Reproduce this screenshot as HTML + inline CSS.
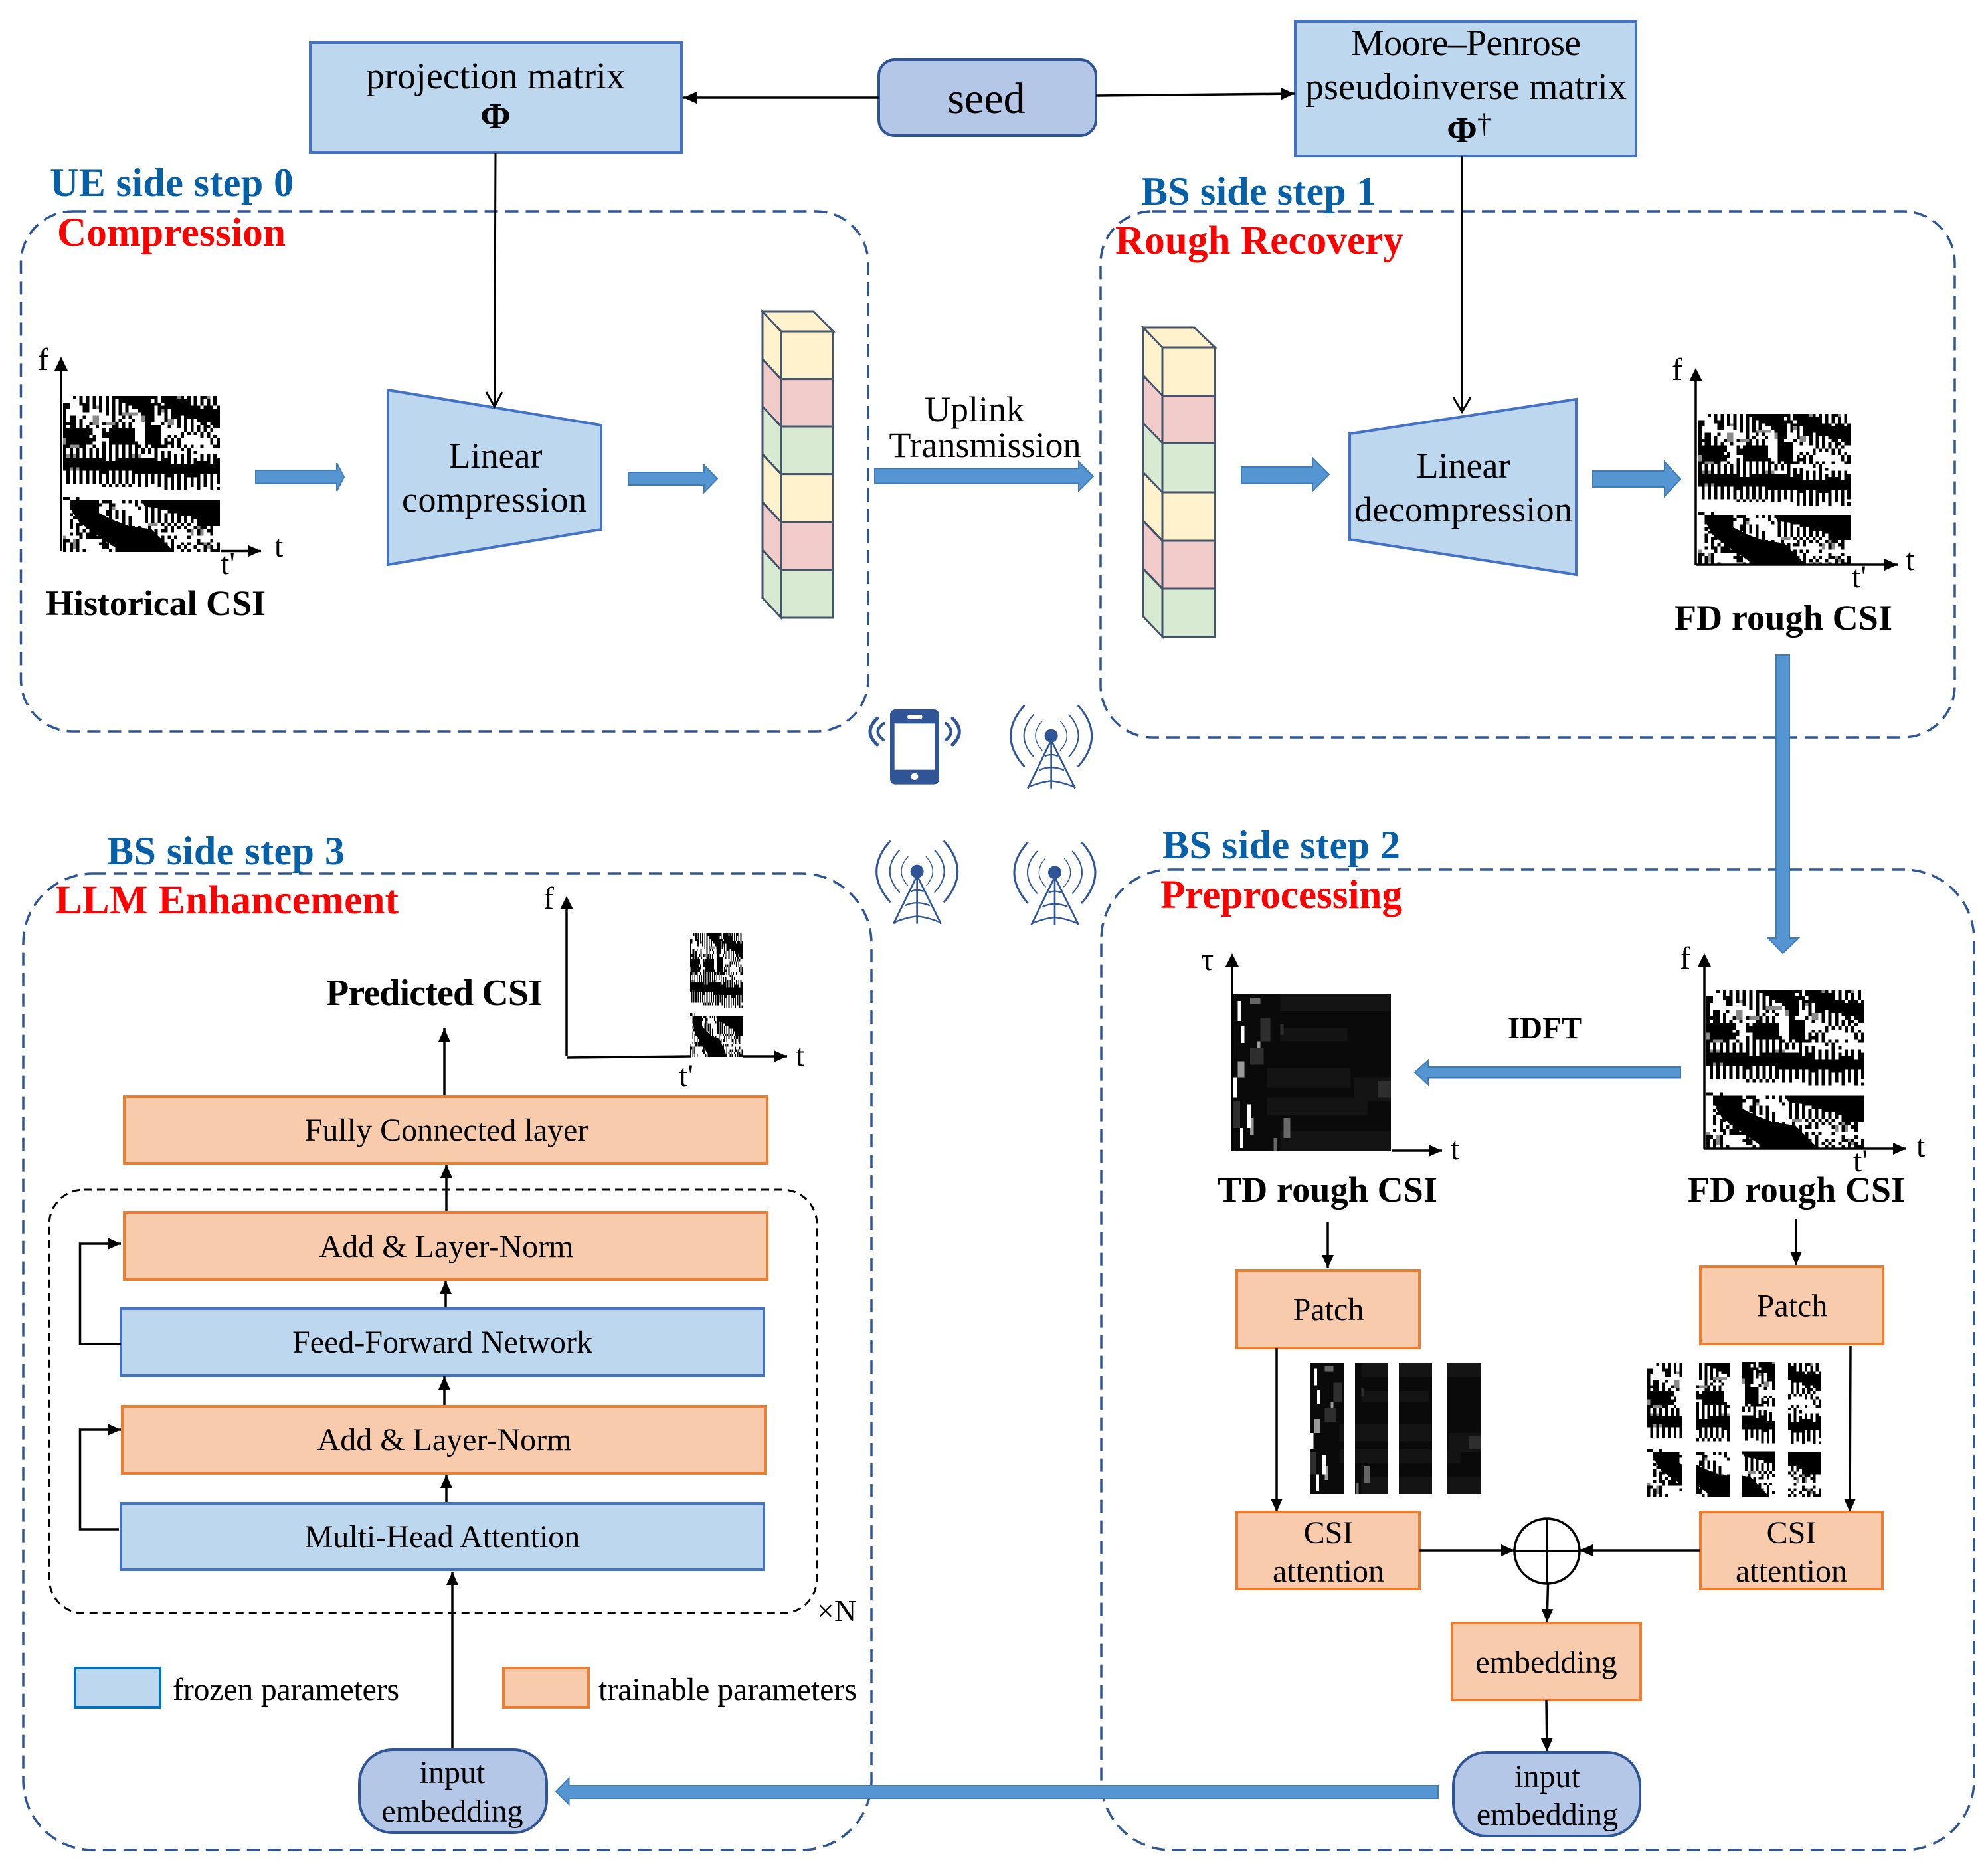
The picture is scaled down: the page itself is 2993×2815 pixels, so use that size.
<!DOCTYPE html>
<html><head><meta charset="utf-8"><title>CSI diagram</title>
<style>
html,body{margin:0;padding:0;background:#fff;}
svg{display:block;}
text{font-family:"Liberation Serif",serif;fill:#000;}
.m{text-anchor:middle;}
.s48{font-size:48px;}.s54{font-size:54px;}.s56{font-size:56px;}
.b{font-weight:bold;}
.blue{font-weight:bold;font-size:60px;fill:#0560A8;}
.red{font-weight:bold;font-size:61px;fill:#FF0000;}
.or{fill:#F8CBAD;stroke:#ED7D31;stroke-width:4;}
.bl{fill:#BDD7EE;stroke:#4472C4;stroke-width:4;}
.rd{fill:#B4C7E7;stroke:#2F5597;stroke-width:4;}
.dash{fill:none;stroke:#2F5597;stroke-width:3.5;stroke-dasharray:20 11;}
.ln{stroke:#000;stroke-width:3.5;fill:none;}
.ar{stroke:#000;stroke-width:3.5;fill:none;marker-end:url(#a);}
.th{fill:#5596D2;stroke:#3E7CB9;stroke-width:2;}
.cb{stroke:#44546A;stroke-width:3;}
</style></head><body>
<svg xmlns="http://www.w3.org/2000/svg" width="2993" height="2815" viewBox="0 0 2993 2815">
<defs>
<marker id="a" markerUnits="userSpaceOnUse" markerWidth="22" markerHeight="20" refX="20" refY="9" orient="auto"><path d="M0 0L20 9L0 18z" fill="#000"/></marker>
<g id="fdg" shape-rendering="crispEdges">
<rect width="48" height="48" fill="#fff"/>
<g fill="#8a8a8a">
<rect x="9" y="6" width="2" height="2"/><rect x="18" y="5" width="5" height="1"/><rect x="9" y="8" width="2" height="1"/><rect x="13" y="8" width="3" height="1"/>
<rect x="0" y="13" width="2" height="2"/><rect x="2" y="15" width="3" height="1"/><rect x="9" y="3" width="2" height="1"/><rect x="24" y="6" width="1" height="2"/>
<rect x="32" y="7" width="2" height="2"/><rect x="44" y="0" width="1" height="1"/><rect x="35" y="0" width="1" height="2"/>
<rect x="41" y="40" width="2" height="3"/><rect x="39" y="41" width="1" height="2"/><rect x="43" y="45" width="2" height="2"/>
<rect x="14" y="33" width="2" height="2"/><rect x="26" y="39" width="3" height="1"/><rect x="3" y="44" width="1" height="3"/><rect x="0" y="43" width="1" height="1"/>
<rect x="2" y="22" width="3" height="1"/><rect x="20" y="18" width="4" height="1"/><rect x="1" y="18" width="1" height="1"/><rect x="3" y="18" width="1" height="1"/>
<rect x="30" y="4" width="1" height="1"/>
</g>
<g fill="none" stroke="#000" stroke-width="1">
<path d="M0 .5H48" stroke-dasharray="0 3 1 1 1 1 1 1 1 1 1 1 1 1 14 1 5 1 1 1 1 1 1 1 2 2 1 1"/>
<path d="M0 1.5H48" stroke-dasharray="0 5 1 1 1 1 1 1 1 1 1 1 1 1 10 1 1 1 9 1 1 1 1 1 1 1 1 1"/>
<path d="M0 2.5H48" stroke-dasharray="2 3 3 1 1 1 1 1 1 1 1 1 1 1 11 1 8 1 1 1 1 1 1 1 1 1"/>
<path d="M0 3.5H48" stroke-dasharray="2 4 2 1 1 1 1 1 1 1 1 1 1 1 1 1 7 1 13 1 3 1 1 0"/>
<path d="M0 4.5H48" stroke-dasharray="1 5 2 3 1 1 1 1 1 1 1 1 1 3 5 1 1 1 1 1 15 0"/>
<path d="M0 5.5H48" stroke-dasharray="1 12 1 1 1 1 1 6 4 1 1 1 1 1 15 0"/>
<path d="M0 6.5H48" stroke-dasharray="1 1 2 2 1 8 1 2 1 1 1 4 3 3 1 1 3 1 11 0"/>
<path d="M0 7.5H48" stroke-dasharray="1 1 2 1 1 9 1 1 1 3 1 3 3 3 1 3 1 1 1 1 1 1 7 0"/>
<path d="M0 8.5H48" stroke-dasharray="4 1 1 2 1 3 1 3 1 1 1 1 1 4 2 3 1 4 1 1 1 1 1 2 2 1 3 0"/>
<path d="M0 9.5H48" stroke-dasharray="1 1 2 1 1 1 1 2 1 4 2 1 1 1 1 4 5 2 1 2 1 1 1 1 1 1 1 1 2 1 2 0"/>
<path d="M0 10.5H48" stroke-dasharray="2 1 2 1 1 1 1 3 1 1 6 5 5 7 1 1 1 1 1 1 1 1 1 2"/>
<path d="M0 11.5H48" stroke-dasharray="3 1 1 1 1 1 1 3 10 3 5 6 1 1 1 1 1 1 1 1 1 3"/>
<path d="M0 12.5H48" stroke-dasharray="2 1 2 1 2 1 1 2 10 3 5 2 1 1 1 1 1 5 1 1 1 1 1 1"/>
<path d="M0 13.5H48" stroke-dasharray="0 2 3 1 1 1 2 4 3 1 1 2 1 3 5 1 1 1 1 1 1 9 1 1 1 0"/>
<path d="M0 14.5H48" stroke-dasharray="0 1 1 1 2 1 3 3 1 1 1 1 1 1 1 1 1 1 1 2 5 1 3 1 1 9 1 1 1 0"/>
<path d="M0 15.5H48" stroke-dasharray="2 3 2 2 1 2 1 1 1 1 1 1 1 1 1 1 2 1 1 1 5 1 1 1 1 1 1 1 1 2 1 3"/>
<path d="M0 16.5H48" stroke-dasharray="1 1 1 1 1 1 1 1 1 1 1 1 1 1 1 1 1 1 1 1 1 1 1 1 1 1 1 1 1 7 1 1 1 9"/>
<path d="M0 17.5H48" stroke-dasharray="1 1 1 1 1 1 1 1 1 1 1 1 1 1 1 1 1 1 1 1 1 1 1 1 1 1 1 1 1 1 1 1 1 5 1 1 1 7"/>
<path d="M0 18.5H48" stroke-dasharray="1 1 1 1 1 1 1 1 1 1 1 1 1 1 1 1 1 1 1 1 1 1 1 5 1 1 1 1 1 1 1 1 1 1 1 3 1 1 1 1 1 1"/>
<path d="M0 19.5H48" stroke-dasharray="13 1 1 1 13 1 3 1 1 1 1 1 1 1 1 1 1 1 1 1 2 0"/>
<path d="M0 20.5H48" stroke-dasharray="33 1 1 1 1 1 1 1 5 1 2 0"/>
<path d="M0 21.5H48"/>
<path d="M0 22.5H48" stroke-dasharray="2 1 1 1 43 0"/>
<path d="M0 23.5H48" stroke-dasharray="0 1 1 1 1 1 1 1 1 1 1 1 3 1 1 1 1 1 1 1 27 0"/>
<path d="M0 24.5H48" stroke-dasharray="0 1 1 1 1 1 1 1 1 1 1 1 1 1 1 1 1 1 1 1 1 1 1 1 1 1 1 1 1 1 1 1 3 1 1 1 5 1 1 1 1 1 1 0"/>
<path d="M1 25.5H48" stroke-dasharray="1 1"/>
<path d="M1 26.5H48" stroke-dasharray="1 1"/>
<path d="M0 27.5H48" stroke-dasharray="0 12 1 1 1 1 1 1 1 1 1 2 1 1 1 3 1 1 1 1 1 1 1 1 1 1 1 1 1 1 1 1 1 0"/>
<path d="M0 28.5H48" stroke-dasharray="0 31 1 1 1 1 1 1 1 3 1 3 1 1 1 0"/>
<path d="M0 31.5H48" stroke-dasharray="2 2 1 43"/>
<path d="M0 32.5H48" stroke-dasharray="0 2 7 3 3 3 1 1 1 1 1 1 9 1 2 1 1 1 5 1 1 1 1 0"/>
<path d="M0 33.5H48" stroke-dasharray="0 2 10 2 2 6 1 2 8 3 2 1 5 1 1 1 1 0"/>
<path d="M0 34.5H48" stroke-dasharray="0 2 9 3 1 8 1 1 1 1 1 1 11 1 7 0"/>
<path d="M0 35.5H48" stroke-dasharray="0 4 7 2 2 1 1 1 1 6 1 1 1 1 1 2 7 1 8 0"/>
<path d="M0 36.5H48" stroke-dasharray="0 2 1 1 7 2 2 1 1 1 1 6 1 1 1 1 1 1 1 1 1 1 13 0"/>
<path d="M0 37.5H48" stroke-dasharray="0 3 8 1 1 1 1 1 1 1 1 1 1 4 1 1 1 1 1 1 1 1 1 1 1 1 1 1 5 1 3 0"/>
<path d="M0 38.5H48" stroke-dasharray="0 2 1 2 6 1 1 1 1 3 1 1 1 4 1 1 1 1 1 1 1 1 1 1 1 1 1 1 1 1 1 2 1 1 1 1"/>
<path d="M0 39.5H48" stroke-dasharray="0 2 1 1 2 1 5 1 1 1 1 1 2 1 1 9 1 1 1 1 1 1 1 1 1 2 1 1 2 3"/>
<path d="M0 40.5H48" stroke-dasharray="0 2 1 1 1 2 9 1 5 1 1 2 1 4 1 1 1 1 1 1 1 2 1 1 2 1 1 2"/>
<path d="M0 41.5H48" stroke-dasharray="0 4 1 1 1 1 2 1 9 1 1 2 1 3 1 1 2 1 1 4 1 2 1 2 2 2"/>
<path d="M0 42.5H48" stroke-dasharray="0 2 1 1 2 1 3 1 9 1 1 2 1 3 1 12 1 3 1 2"/>
<path d="M0 43.5H48" stroke-dasharray="0 5 1 1 7 1 5 1 1 2 1 1 1 1 1 1 1 1 1 1 1 3 1 9"/>
<path d="M0 44.5H48" stroke-dasharray="2 2 1 7 1 3 1 1 7 1 1 1 1 1 1 2 1 7 1 3 1 2"/>
<path d="M0 45.5H48" stroke-dasharray="1 1 1 1 1 6 3 1 1 2 8 1 1 1 1 1 1 1 1 2 1 1 1 2 2 1 1 2 1 0"/>
<path d="M0 46.5H48" stroke-dasharray="1 1 1 1 1 7 2 2 2 1 9 1 1 3 1 1 1 1 1 2 1 2 1 1 1 1 1 0"/>
<path d="M0 47.5H48" stroke-dasharray="1 1 1 1 1 1 1 7 1 1 3 1 8 1 1 3 1 2 1 1 1 2 1 1 1 1 3 0"/>
</g>
<g fill="#000">
<polygon points="2,32 11,32 11,36 15,38 20,40 27,41 30,44 33,47 33,48 18,48 12,44 8,41 5,39 3,36"/>
<polygon points="24,32 47,32 47,37 41,37 33,35 25,34"/>
<polygon points="41,37 48,37 48,40 42,40"/>
<polygon points="1,10 8,10 8,15 1,15"/>
<polygon points="19,10 22,10 22,15 14,15 14,11"/>
</g>
</g>
<g id="tdg" shape-rendering="crispEdges">
<rect width="47" height="47" fill="#0a0a0a"/>
<g fill="#141414">
<rect x="14" y="0" width="33" height="5"/><rect x="14" y="10" width="20" height="4"/><rect x="10" y="22" width="25" height="6"/>
<rect x="10" y="31" width="30" height="5"/><rect x="14" y="41" width="33" height="6"/><rect x="36" y="25" width="11" height="7"/>
</g>
<g fill="#2e2e2e">
<rect x="8" y="7" width="3" height="7"/><rect x="5" y="16" width="4" height="5"/><rect x="43" y="26" width="4" height="5"/><rect x="14" y="9" width="1" height="3"/><rect x="0" y="32" width="2" height="8"/>
</g>
<g fill="#666">
<rect x="5" y="1" width="3" height="2"/><rect x="15" y="37" width="2" height="6"/><rect x="12" y="43" width="1" height="4"/>
</g>
<g fill="#999"><rect x="1.3" y="20" width="2" height="5"/><rect x="5" y="37" width="1" height="5"/><rect x="7" y="14" width="1" height="2"/></g>
<g fill="#fff"><rect x="1.3" y="2" width="1" height="6"/><rect x="2.3" y="9.5" width="1" height="5"/><rect x="0" y="25" width="1" height="6"/><rect x="4" y="33" width="1.3" height="7"/><rect x="2" y="40" width="1" height="6"/></g>
</g>
<symbol id="fd" viewBox="0 0 48 48" preserveAspectRatio="none"><use href="#fdg"/></symbol>
<symbol id="td" viewBox="0 0 47 47" preserveAspectRatio="none"><use href="#tdg"/></symbol>
<g id="tower" fill="none" stroke="#2F5597">
<circle r="30" fill="#2F5597" stroke="none"/>
<g stroke-linecap="round"><path d="M-41-66Q-101 0-41 65" stroke-width="4"/><path d="M-80-95Q-166 0-80 94" stroke-width="6"/><path d="M-123-135Q-243 0-123 137" stroke-width="9"/>
<path d="M41-66Q101 0 41 65" stroke-width="4"/><path d="M80-95Q166 0 80 94" stroke-width="6"/><path d="M123-135Q243 0 123 137" stroke-width="9"/></g>
<path d="M-4 28L-106 237M4 28L108 237M0 28V237" stroke-width="8"/>
<path d="M-28 92Q0 78 30 92M-55 155Q0 130 58 155M-106 232Q-50 208 0 203Q50 208 108 232" stroke-width="7"/>
</g>
</defs>
<rect width="2993" height="2815" fill="#fff"/>

<!-- dashed panels -->
<rect class="dash" x="31.5" y="318" width="1275.5" height="783" rx="78"/>
<rect class="dash" x="1657" y="318" width="1286" height="792" rx="78"/>
<rect class="dash" x="35" y="1315" width="1277" height="1470" rx="105"/>
<rect class="dash" x="1658" y="1309" width="1314" height="1476" rx="105"/>

<!-- top boxes -->
<rect class="bl" x="467" y="64" width="559" height="166"/>
<text class="s56 m" x="746" y="133" textLength="390">projection matrix</text>
<text class="m b" x="746" y="193" font-size="55">Φ</text>
<rect class="rd" x="1323" y="90" width="327" height="114" rx="24" stroke-width="3"/>
<text class="m" x="1485" y="170" font-size="66">seed</text>
<rect class="bl" x="1950" y="32" width="513" height="203"/>
<text class="s56 m" x="2207" y="83" textLength="346">Moore–Penrose</text>
<text class="s56 m" x="2207" y="149" textLength="484">pseudoinverse matrix</text>
<text class="m b" x="2201" y="214" font-size="55">Φ</text>
<text x="2224" y="200" font-size="42">†</text>
<line class="ar" x1="1323" y1="147" x2="1029" y2="147"/>
<line class="ar" x1="1650" y1="144" x2="1949" y2="141"/>

<!-- labels -->
<text class="blue" x="75" y="295" textLength="367">UE side step 0</text>
<text class="red" x="86" y="370" textLength="344">Compression</text>
<text class="blue" x="1718" y="308" textLength="354">BS side step 1</text>
<text class="red" x="1679" y="382" textLength="434">Rough Recovery</text>
<text class="blue" x="161" y="1301" textLength="358">BS side step 3</text>
<text class="red" x="83" y="1375" textLength="517">LLM Enhancement</text>
<text class="blue" x="1750" y="1292" textLength="358">BS side step 2</text>
<text class="red" x="1747" y="1367" textLength="364">Preprocessing</text>

<!-- step 0 -->
<use href="#fd" x="95" y="596" width="236" height="235"/>
<line class="ln" x1="92" y1="830" x2="92" y2="555"/><polygon points="92,537 82,558 102,558"/>
<line class="ar" x1="333" y1="829.5" x2="393" y2="829.5"/>
<text x="57" y="557" font-size="48">f</text><text x="413" y="838" font-size="48">t</text><text x="332" y="864" font-size="48">t'</text>
<text class="s54 b" x="69" y="926" textLength="331">Historical CSI</text>
<polygon class="bl" points="584,587 905,640 905,797 584,850"/>
<text class="s54 m" x="746" y="704">Linear</text>
<text class="s54 m" x="744" y="770" textLength="278">compression</text>
<path d="M746 230L744.5 612M732 590L744.5 612L756 590" fill="none" stroke="#000" stroke-width="3"/>
<polygon class="th" points="385,708 507,708 507,697 518,718 507,739 507,727.5 385,727.5"/>
<polygon class="th" points="946,711 1060,711 1060,700 1080,720.5 1060,741 1060,730 946,730"/>
<!-- stack 1 -->
<g class="cb">
<polygon points="1148,469 1225,469 1254.5,499 1176,499" fill="#FFF2CC"/>
<polygon points="1148,469 1176,499 1176,570.6 1148,541" fill="#FFF2CC"/>
<polygon points="1148,541 1176,570.6 1176,642 1148,612" fill="#F2CBCB"/>
<polygon points="1148,612 1176,642 1176,713.6 1148,684" fill="#D9EAD3"/>
<polygon points="1148,684 1176,713.6 1176,786 1148,756" fill="#FFF2CC"/>
<polygon points="1148,756 1176,786 1176,858 1148,828" fill="#F2CBCB"/>
<polygon points="1148,828 1176,858 1176,930 1148,900" fill="#D9EAD3"/>
<rect x="1176" y="499" width="78.5" height="71.6" fill="#FFF2CC"/>
<rect x="1176" y="570.6" width="78.5" height="71.4" fill="#F2CBCB"/>
<rect x="1176" y="642" width="78.5" height="71.6" fill="#D9EAD3"/>
<rect x="1176" y="713.6" width="78.5" height="72.4" fill="#FFF2CC"/>
<rect x="1176" y="786" width="78.5" height="72" fill="#F2CBCB"/>
<rect x="1176" y="858" width="78.5" height="72" fill="#D9EAD3"/>
</g>
<!-- uplink -->
<text class="s54 m" x="1467" y="634">Uplink</text>
<text class="s54 m" x="1483" y="688">Transmission</text>
<polygon class="th" points="1317,705.5 1624,705.5 1624,695 1646,717 1624,739 1624,727.5 1317,727.5"/>

<!-- step 1 -->
<g class="cb">
<polygon points="1721,493 1798,493 1829,523 1750,523" fill="#FFF2CC"/>
<polygon points="1721,493 1750,523 1750,595.5 1721,565" fill="#FFF2CC"/>
<polygon points="1721,565 1750,595.5 1750,667 1721,637" fill="#F2CBCB"/>
<polygon points="1721,637 1750,667 1750,741 1721,711" fill="#D9EAD3"/>
<polygon points="1721,711 1750,741 1750,814 1721,784" fill="#FFF2CC"/>
<polygon points="1721,784 1750,814 1750,886 1721,856" fill="#F2CBCB"/>
<polygon points="1721,856 1750,886 1750,958.5 1721,928" fill="#D9EAD3"/>
<rect x="1750" y="523" width="79" height="72.5" fill="#FFF2CC"/>
<rect x="1750" y="595.5" width="79" height="71.5" fill="#F2CBCB"/>
<rect x="1750" y="667" width="79" height="74" fill="#D9EAD3"/>
<rect x="1750" y="741" width="79" height="73" fill="#FFF2CC"/>
<rect x="1750" y="814" width="79" height="72" fill="#F2CBCB"/>
<rect x="1750" y="886" width="79" height="72.5" fill="#D9EAD3"/>
</g>
<polygon class="th" points="1869,703 1976,703 1976,689 2001,714 1976,739 1976,727.5 1869,727.5"/>
<polygon class="bl" points="2032,653 2373,601 2373,865 2032,812"/>
<text class="s54 m" x="2203" y="719">Linear</text>
<text class="s54 m" x="2203" y="785" textLength="328">decompression</text>
<path d="M2201 235V620M2188 598L2201 620L2214 598" fill="none" stroke="#000" stroke-width="3"/>
<polygon class="th" points="2398,709 2506,709 2506,695 2530,721 2506,747 2506,733 2398,733"/>
<use href="#fd" x="2557" y="623" width="229" height="228"/>
<line class="ln" x1="2553" y1="850" x2="2553" y2="572"/><polygon points="2553,554 2543,574 2563,574"/>
<line class="ln" x1="2553" y1="850" x2="2786" y2="850"/>
<line class="ar" x1="2786" y1="850" x2="2857" y2="850"/>
<text x="2517" y="572" font-size="48">f</text><text x="2869" y="858" font-size="48">t</text><text x="2788" y="884" font-size="48">t'</text>
<text class="s54 b" x="2521" y="948" textLength="328">FD rough CSI</text>
<polygon class="th" points="2674,986 2694,986 2694,1412 2708,1412 2684,1435 2662,1412 2674,1412"/>

<!-- icons -->
<g transform="translate(1290,1040) scale(0.3333)">
<g fill="none" stroke="#2F5597" stroke-linecap="round"><path d="M92 125Q28 185 92 243" stroke-width="15"/><path d="M122 147Q68 185 122 222" stroke-width="13"/><path d="M432 125Q494 185 432 243" stroke-width="15"/><path d="M402 147Q448 185 402 222" stroke-width="13"/></g>
<rect x="150" y="84" width="222" height="338" rx="24" fill="#2F5597"/>
<rect x="170" y="148" width="182" height="208" fill="#fff"/>
<rect x="228" y="108" width="68" height="20" rx="10" fill="#fff"/>
<circle cx="261" cy="386" r="16" fill="#fff"/>
<use href="#tower" x="878" y="203"/>
<use href="#tower" x="272" y="815"/>
<use href="#tower" x="894" y="820"/>
</g>

<!-- step 3 -->
<use href="#fd" x="1039" y="1405" width="79" height="186"/>
<line class="ln" x1="853" y1="1590" x2="853" y2="1365"/><polygon points="853,1349 843,1369 863,1369"/>
<path class="ln" d="M853 1592L1040 1590"/>
<line class="ar" x1="1118" y1="1590" x2="1185" y2="1590"/>
<text x="818" y="1368" font-size="48">f</text><text x="1198" y="1604.5" font-size="48">t</text><text x="1022" y="1635" font-size="48">t'</text>
<text class="s56 b" x="491" y="1513" textLength="326">Predicted CSI</text>
<line class="ar" x1="669" y1="1650" x2="669" y2="1548"/>
<rect class="or" x="187" y="1651" width="968" height="100"/>
<text class="s48 m" x="672" y="1717">Fully Connected layer</text>
<rect x="74" y="1791" width="1156" height="637.5" rx="52" fill="none" stroke="#000" stroke-width="3" stroke-dasharray="12 8"/>
<line class="ar" x1="672" y1="1825" x2="672" y2="1753"/>
<rect class="or" x="187" y="1825" width="968" height="101"/>
<text class="s48 m" x="672" y="1892">Add &amp; Layer-Norm</text>
<line class="ar" x1="671" y1="1970" x2="671" y2="1928"/>
<rect class="bl" x="182" y="1970" width="968" height="101"/>
<text class="s48 m" x="666" y="2036">Feed-Forward Network</text>
<line class="ar" x1="669" y1="2117" x2="669" y2="2072"/>
<rect class="or" x="184" y="2117" width="968" height="101"/>
<text class="s48 m" x="669" y="2183">Add &amp; Layer-Norm</text>
<line class="ar" x1="672" y1="2265" x2="672" y2="2220"/>
<rect class="bl" x="182" y="2263" width="968" height="100"/>
<text class="s48 m" x="666" y="2329">Multi-Head Attention</text>
<path class="ar" d="M182 2023H120.5V1872H182"/>
<path class="ar" d="M179 2302H120.5V2152H182"/>
<text x="1230" y="2440" font-size="46">×N</text>
<line class="ar" x1="681" y1="2634" x2="681" y2="2366"/>
<rect x="113" y="2511" width="128" height="59" fill="#BDD7EE" stroke="#0070C0" stroke-width="4"/>
<text class="s48" x="260" y="2559" textLength="341">frozen parameters</text>
<rect class="or" x="758" y="2511" width="128" height="59" stroke-width="3"/>
<text class="s48" x="901" y="2559" textLength="389">trainable parameters</text>
<rect class="rd" x="541" y="2634" width="282" height="125" rx="50"/>
<text class="s48 m" x="681" y="2684">input</text>
<text class="s48 m" x="681" y="2742">embedding</text>

<!-- step 2 -->
<use href="#td" x="1857" y="1497" width="237" height="236"/>
<line class="ln" x1="1855" y1="1732" x2="1855" y2="1452"/><polygon points="1855,1435 1845,1455 1865,1455"/>
<line class="ar" x1="2096" y1="1732" x2="2171" y2="1732"/>
<text x="1808" y="1460" font-size="48">τ</text><text x="2184" y="1745" font-size="48">t</text>
<text class="s54 b" x="1833" y="1809" textLength="331">TD rough CSI</text>
<use href="#fd" x="2569" y="1490" width="238" height="239"/>
<line class="ln" x1="2566" y1="1729" x2="2566" y2="1452"/><polygon points="2566,1435 2556,1455 2576,1455"/>
<line class="ln" x1="2566" y1="1729" x2="2807" y2="1729"/>
<line class="ar" x1="2807" y1="1729" x2="2870" y2="1729"/>
<text x="2529" y="1458" font-size="48">f</text><text x="2885" y="1741" font-size="48">t</text><text x="2790" y="1763" font-size="48">t'</text>
<text class="s54 b" x="2541" y="1809" textLength="327">FD rough CSI</text>
<text class="m b" x="2326" y="1563" font-size="47">IDFT</text>
<polygon class="th" points="2530,1606 2150,1606 2150,1596 2130,1614 2150,1633 2150,1622.5 2530,1622.5"/>
<line class="ar" x1="1999" y1="1840" x2="1999" y2="1909"/>
<line class="ar" x1="2704" y1="1835" x2="2704" y2="1904"/>
<rect class="or" x="1862" y="1913" width="275" height="116"/>
<text class="s48 m" x="2000" y="1987">Patch</text>
<rect class="or" x="2560" y="1907" width="275" height="116"/>
<text class="s48 m" x="2698" y="1981.5">Patch</text>
<line class="ar" x1="1922" y1="2029" x2="1922" y2="2276"/>
<line class="ar" x1="2786" y1="2026" x2="2785" y2="2276"/>
<svg x="1973" y="2052" width="51" height="197" viewBox="0 0 11.75 47" preserveAspectRatio="none"><use href="#tdg"/></svg>
<svg x="2040" y="2052" width="50" height="197" viewBox="11.75 0 11.75 47" preserveAspectRatio="none"><use href="#tdg"/></svg>
<svg x="2106" y="2052" width="50" height="197" viewBox="23.5 0 11.75 47" preserveAspectRatio="none"><use href="#tdg"/></svg>
<svg x="2178" y="2052" width="51" height="197" viewBox="35.25 0 11.75 47" preserveAspectRatio="none"><use href="#tdg"/></svg>
<svg x="2480" y="2052" width="53" height="201" viewBox="0 0 12 48" preserveAspectRatio="none"><use href="#fdg"/></svg>
<svg x="2554" y="2052" width="50" height="201" viewBox="12 0 12 48" preserveAspectRatio="none"><use href="#fdg"/></svg>
<svg x="2623" y="2050" width="49" height="203" viewBox="24 0 12 48" preserveAspectRatio="none"><use href="#fdg"/></svg>
<svg x="2692" y="2052" width="50" height="201" viewBox="36 0 12 48" preserveAspectRatio="none"><use href="#fdg"/></svg>
<rect class="or" x="1862" y="2276" width="275" height="116"/>
<text class="s48 m" x="2000" y="2323">CSI</text>
<text class="s48 m" x="2000" y="2381">attention</text>
<rect class="or" x="2560" y="2276" width="274" height="116"/>
<text class="s48 m" x="2697" y="2323">CSI</text>
<text class="s48 m" x="2697" y="2381">attention</text>
<circle cx="2329" cy="2335" r="49" fill="#fff" stroke="#000" stroke-width="3.5"/>
<path class="ln" d="M2280 2335H2378M2329 2286V2384"/>
<line class="ar" x1="2137" y1="2334" x2="2280" y2="2334"/>
<line class="ar" x1="2559" y1="2334" x2="2378" y2="2334"/>
<line class="ar" x1="2330.5" y1="2384" x2="2329" y2="2442"/>
<rect class="or" x="2186" y="2443" width="284" height="116"/>
<text class="s48 m" x="2328" y="2518">embedding</text>
<line class="ar" x1="2328" y1="2559" x2="2329" y2="2637"/>
<rect class="rd" x="2188" y="2638" width="281" height="126" rx="50"/>
<text class="s48 m" x="2329.5" y="2690">input</text>
<text class="s48 m" x="2329.5" y="2747">embedding</text>
<polygon class="th" points="2165,2688 856.5,2688 856.5,2677 837,2697 856.5,2716 856.5,2707 2165,2707"/>
</svg>
</body></html>
